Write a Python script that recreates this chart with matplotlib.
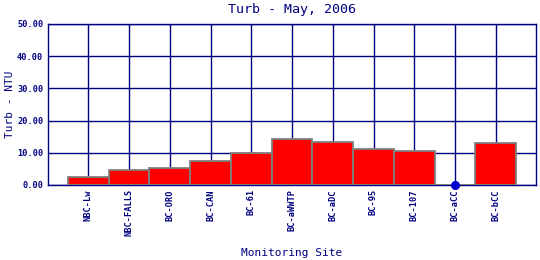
import matplotlib
matplotlib.use("Agg")
import matplotlib.pyplot as plt

# Turbidity by monitoring site, May 2006
sites = ["NBC-Lw", "NBC-FALLS", "BC-ORO", "BC-CAN", "BC-61", "BC-aWWTP",
         "BC-aDC", "BC-95", "BC-107", "BC-aCC", "BC-bCC"]
turb = [2.4, 4.6, 5.2, 7.4, 9.8, 14.2, 13.3, 11.1, 10.5, 0.0, 12.9]
y_ticks = [0, 10, 20, 30, 40, 50]

navy = "#000080"
plt.rcParams["font.family"] = ["DejaVu Sans Mono"]

fig = plt.figure(figsize=(5.4, 2.6), dpi=100)
ax = fig.add_axes([0.088, 0.2885, 0.9055, 0.6192])

pos = list(range(1, len(sites) + 1))
ax.bar(pos, turb, width=1.0, color="#ff0000", edgecolor="#808080",
       linewidth=1.3, zorder=3)
# zero readings drawn as a dot
zx = [p for p, v in zip(pos, turb) if v == 0]
zy = [0 for v in turb if v == 0]
ax.plot(zx, zy, "o", color="#0000cc", markersize=5.5, zorder=4, clip_on=False)

ax.set_xlim(0, len(sites) + 1)
ax.set_ylim(0, 50)
ax.set_xticks(pos)
ax.set_xticklabels(sites, rotation=90, fontsize=6.2, color=navy, fontweight="bold")
ax.set_yticks(y_ticks)
ax.set_yticklabels(["%.2f" % t for t in y_ticks], fontsize=6.2, color=navy,
                   fontweight="bold")
ax.tick_params(length=0, pad=3)
ax.grid(True, color=navy, linewidth=1.0, zorder=0)
for s in ax.spines.values():
    s.set_color(navy)
    s.set_linewidth(1.0)

ax.set_title("Turb - May, 2006", fontsize=9.6, color=navy, pad=8)
ax.set_xlabel("Monitoring Site", fontsize=8, color=navy)
ax.xaxis.set_label_coords(0.5, -0.39)
ax.set_ylabel("Turb - NTU", fontsize=8, color=navy)
ax.yaxis.set_label_coords(-0.067, 0.5)

fig.savefig("out.png", dpi=100)
